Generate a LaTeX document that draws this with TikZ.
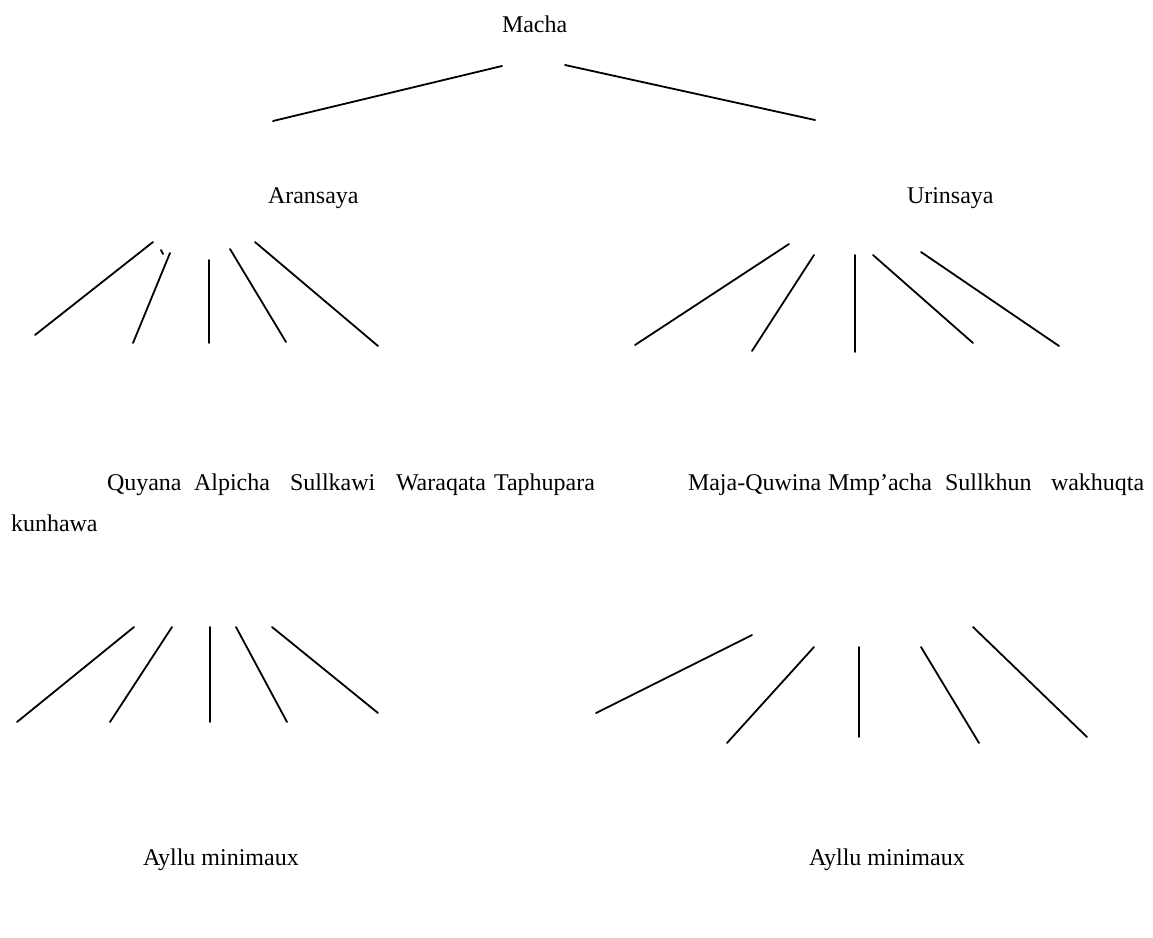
\documentclass[tikz,border=0pt]{standalone}
\usepackage{fontspec}
\setmainfont{Liberation Serif}
\usepackage{tikz}

\begin{document}
\begin{tikzpicture}[
  x=0.5pt, y=-0.5pt,
  font=\fontsize{12}{14}\selectfont,
  line cap=round, line join=round,
  lbl/.style={anchor=base west, inner sep=0pt, outer sep=0pt},
  branch/.style={draw=black, line width=0.9pt},
]
\useasboundingbox (0,0) rectangle (1153,938);

% labels
\node[lbl] (macha) at (502,32) {Macha};
\node[lbl] (aran) at (268,203) {Aransaya};
\node[lbl] (urin) at (907,203) {Urinsaya};

\node[lbl] (quyana) at (107,490) {Quyana};
\node[lbl] (alpicha) at (194,490) {Alpicha};
\node[lbl] (sullkawi) at (290,490) {Sullkawi};
\node[lbl] (waraqata) at (396,490) {Waraqata};
\node[lbl] (taphu) at (494,490) {Taphupara};
\node[lbl] (maja) at (688,490) {Maja-Quwina};
\node[lbl] (mmpacha) at (828,490) {Mmp’acha};
\node[lbl] (sullkhun) at (945,490) {Sullkhun};
\node[lbl] (wakhuqta) at (1051,490) {wakhuqta};
\node[lbl] (kunhawa) at (11,531) {kunhawa};

\node[lbl] (ayllua) at (143,865) {Ayllu minimaux};
\node[lbl] (ayllub) at (809,865) {Ayllu minimaux};

% branches: name/top x/top y/bottom x/bottom y
\foreach \n/\ax/\ay/\bx/\by in {
    t1/502/66/273/121, t2/565/65/815/120,
    a1/153/242/35/335, a2/170/253/133/343, a3/209/260/209/343,
    a4/230/249/286/342, a5/255/242/378/346, ak/161/250/163/254,
    u1/789/244/635/345, u2/814/255/752/351, u3/855/255/855/352,
    u4/873/255/973/343, u5/921/252/1059/346,
    l1/134/627/17/722, l2/172/627/110/722, l3/210/627/210/722,
    l4/236/627/287/722, l5/272/627/378/713,
    r1/752/635/596/713, r2/814/647/727/743, r3/859/647/859/737,
    r4/921/647/979/743, r5/973/627/1087/737} {
  \coordinate (\n-top) at (\ax,\ay);
  \coordinate (\n-bot) at (\bx,\by);
  \draw[branch] (\n-top) -- (\n-bot);
}
\end{tikzpicture}
\end{document}
